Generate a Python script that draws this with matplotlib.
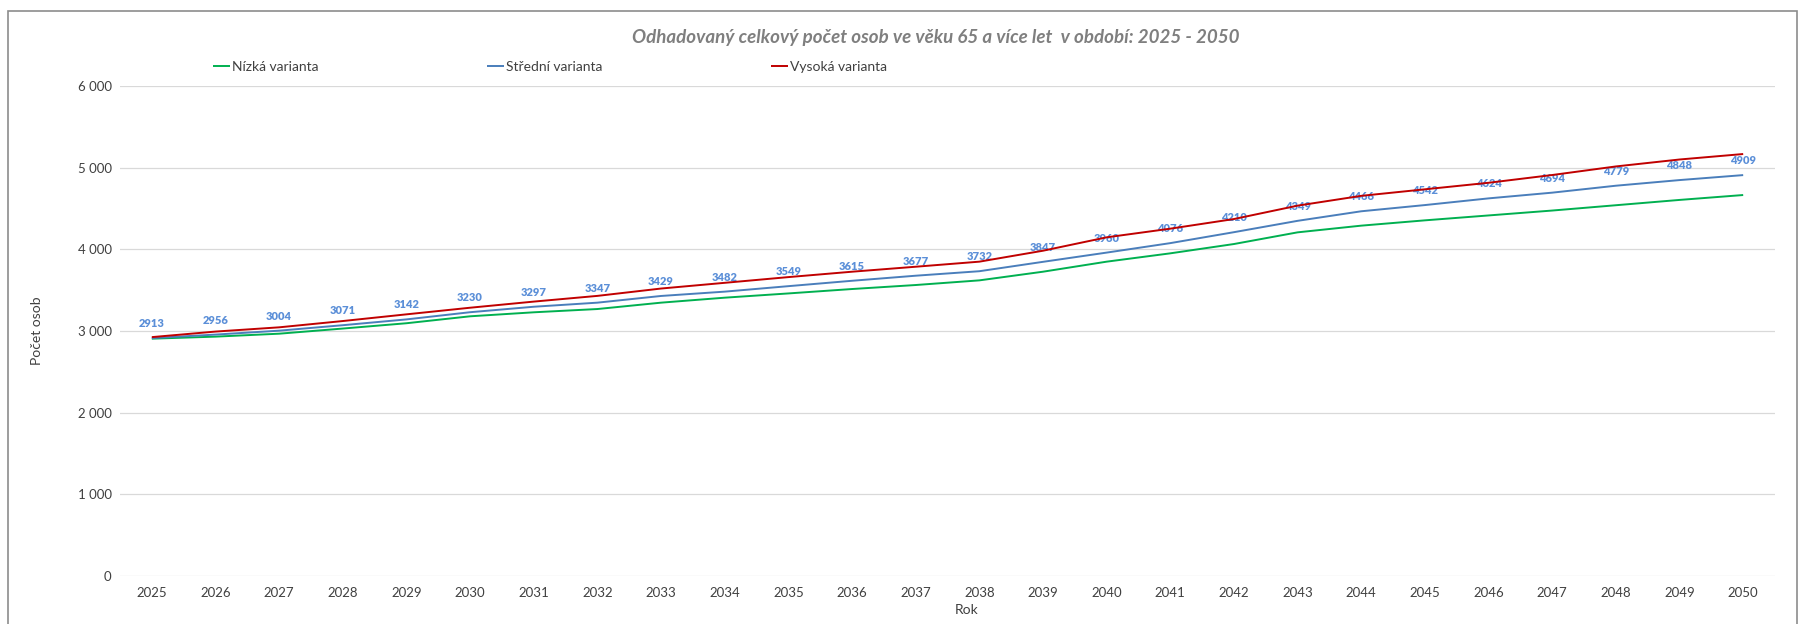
import matplotlib
matplotlib.use("Agg")
import matplotlib.pyplot as plt
from matplotlib.patches import Rectangle
from matplotlib.ticker import FuncFormatter

plt.rcParams["font.family"] = ["Lato", "DejaVu Sans"]

years = list(range(2025, 2051))
nizka = [2906, 2931, 2967, 3030, 3095, 3180, 3229, 3269, 3347, 3408, 3460,
         3514, 3563, 3620, 3726, 3849, 3951, 4065, 4208, 4290, 4355, 4415,
         4475, 4540, 4605, 4665]
stredni = [2913, 2956, 3004, 3071, 3142, 3230, 3297, 3347, 3429, 3482, 3549,
           3615, 3677, 3732, 3847, 3960, 4076, 4210, 4349, 4466, 4542, 4624,
           4694, 4779, 4848, 4909]
vysoka = [2925, 2993, 3045, 3122, 3204, 3285, 3360, 3430, 3520, 3590, 3660,
          3726, 3787, 3849, 3983, 4147, 4253, 4371, 4535, 4655, 4735, 4815,
          4910, 5015, 5100, 5167]
labels = ["Nízká varianta", "Střední varianta", "Vysoká varianta"]
colors = ["#00b050", "#4a7ebb", "#c00000"]

W, H = 1805, 624
fig = plt.figure(figsize=(W / 100, H / 100), dpi=100)
ax = fig.add_axes([120 / W, 1 - 576 / H, (1775 - 120) / W, (576 - 86) / H])

x = list(range(len(years)))
for vals, lab, col in zip([nizka, stredni, vysoka], labels, colors):
    ax.plot(x, vals, color=col, lw=1.4, label=lab, zorder=3, solid_capstyle="butt")

# popisky jen u stredni varianty
for xi, v in zip(x, stredni):
    ax.annotate(str(v), (xi, v), xytext=(0, 6.5), textcoords="offset points",
                ha="center", va="bottom", fontsize=8, fontweight="heavy",
                color="#5b8fd8", zorder=2)

ax.set_xlim(-0.5, len(years) - 0.5)
ax.set_ylim(0, 6000)
ax.set_yticks(range(0, 6001, 1000))
ax.yaxis.set_major_formatter(FuncFormatter(lambda v, p: f"{int(v):,}".replace(",", " ")))
ax.set_xticks(x)
ax.set_xticklabels([str(y) for y in years])
ax.grid(axis="y", color="#d9d9d9", lw=0.9)
ax.set_axisbelow(True)
for s in ax.spines.values():
    s.set_visible(False)
ax.tick_params(axis="both", length=0, labelsize=9.5, colors="#404040")
ax.tick_params(axis="x", pad=8)
ax.tick_params(axis="y", pad=6)

fig.text(967 / W, 1 - 610 / H, "Rok", ha="center", va="center", fontsize=10, color="#404040")
fig.text(37 / W, 1 - 331 / H, "Počet osob", ha="center", va="center", rotation=90,
         fontsize=10, color="#404040")
fig.text(936 / W, 1 - 37 / H,
         "Odhadovaný celkový počet osob ve věku 65 a více let  v období: 2025 - 2050",
         ha="center", va="center", fontsize=13.5, fontweight="bold", style="italic",
         color="#7f7f7f")

fig.legend(loc="center left", bbox_to_anchor=(213 / W, 1 - 67 / H), ncol=3,
           frameon=False, fontsize=10, handlelength=1.2, handletextpad=0.2,
           columnspacing=12.1, borderpad=0, borderaxespad=0, labelcolor="#404040")

fig.patches.append(Rectangle((8 / W, -0.1), (1797 - 8) / W, 1.1 - 11 / H,
                             transform=fig.transFigure, fill=False,
                             edgecolor="#8c8c8c", lw=1.2))

fig.savefig("out.png", dpi=100)
